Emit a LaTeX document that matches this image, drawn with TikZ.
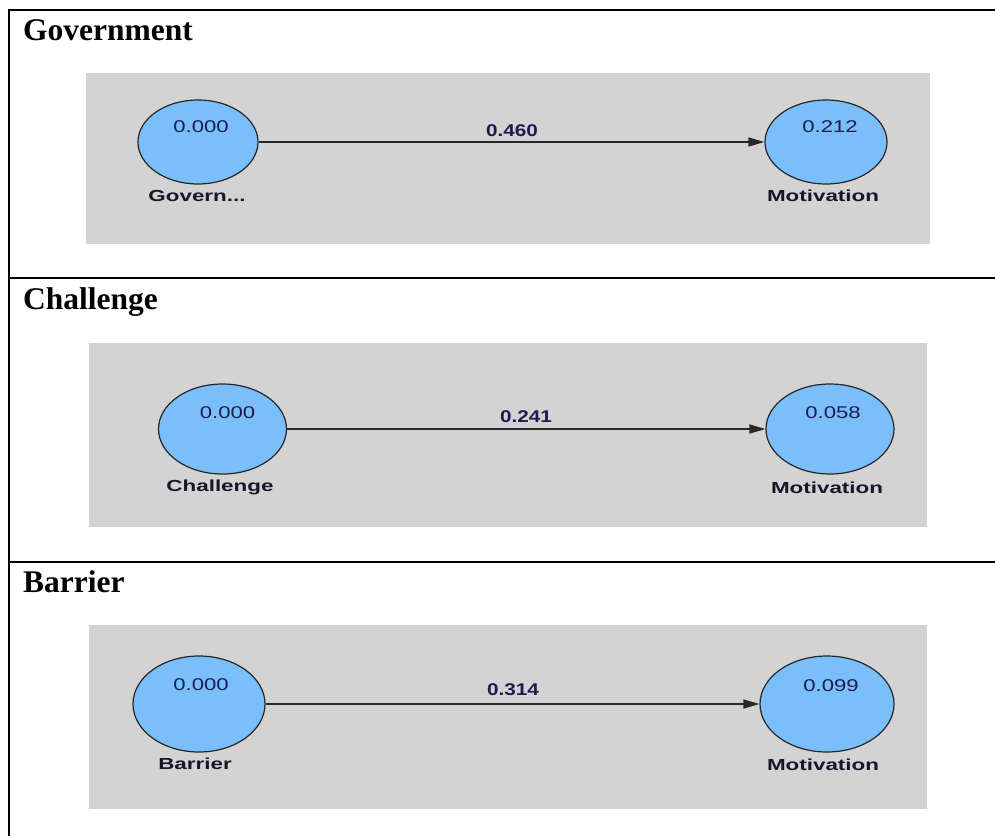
\documentclass[tikz,border=0pt]{standalone}
\usepackage{fontspec}
\usepackage{graphicx}
\usetikzlibrary{shapes.geometric,arrows.meta}
\newfontfamily\sansfam{Liberation Sans}
\newfontfamily\seriffam{Liberation Serif}
\definecolor{panelgray}{RGB}{211,211,211}
\definecolor{nodeblue}{RGB}{122,191,252}
\definecolor{valtext}{RGB}{28,28,80}
\definecolor{labtext}{RGB}{22,22,40}
\definecolor{linegray}{RGB}{40,40,40}
\tikzset{
  panel/.style={fill=panelgray, draw=none},
  latent/.style={ellipse, draw=black!85, line width=1.2pt, fill=nodeblue, inner sep=0pt},
  valnode/.style={inner sep=0pt, text=valtext, font=\sansfam\fontsize{17}{19}\selectfont},
  labnode/.style={inner sep=0pt, text=labtext, font=\sansfam\bfseries\fontsize{16}{18}\selectfont},
  edgelab/.style={inner sep=0pt, text=valtext, font=\sansfam\bfseries\fontsize{17}{19}\selectfont},
  titlenode/.style={inner sep=0pt, anchor=base west, font=\seriffam\bfseries\fontsize{31.5}{36}\selectfont},
  conn/.style={draw=linegray, line width=1.5pt, -{Triangle[length=16pt,width=9pt]}},
  rule/.style={line width=2pt, draw=black}
}
\begin{document}
\begin{tikzpicture}[x=1pt,y=-1pt]
\useasboundingbox (0,0) rectangle (995,836);
\fill[white] (0,0) rectangle (995,836);
% table rules
\draw[rule] (9,10) -- (995,10);
\draw[rule] (9,278) -- (995,278);
\draw[rule] (9,562) -- (995,562);
\draw[rule] (9,9) -- (9,836);
% titles
\node[titlenode] (t1) at (23,40) {Government};
\node[titlenode] (t2) at (23,309) {Challenge};
\node[titlenode] (t3) at (23,592) {Barrier};
% panels
\fill[panel] (86,73) rectangle (930,244);
\fill[panel] (89,343) rectangle (927,527);
\fill[panel] (89,625) rectangle (927,809);
% row 1
\node[latent, minimum width=120pt, minimum height=84pt] (L1) at (198,142) {};
\node[latent, minimum width=122pt, minimum height=84pt] (R1) at (826,142) {};
\node[valnode] (v1a) at (201,127) {\scalebox{1.3}[1]{0.000}};
\node[valnode] (v1b) at (830,127) {\scalebox{1.3}[1]{0.212}};
\node[labnode] (n1a) at (197,196) {\scalebox{1.4}[1]{Govern...}};
\node[labnode] (n1b) at (823,196) {\scalebox{1.4}[1]{Motivation}};
\draw[conn] (L1) -- (R1);
\node[edgelab] (e1) at (512,131) {\scalebox{1.22}[1]{0.460}};
% row 2
\node[latent, minimum width=128pt, minimum height=90pt] (L2) at (222.5,429) {};
\node[latent, minimum width=128pt, minimum height=90pt] (R2) at (830,429) {};
\node[valnode] (v2a) at (227.5,413) {\scalebox{1.3}[1]{0.000}};
\node[valnode] (v2b) at (833,413) {\scalebox{1.3}[1]{0.058}};
\node[labnode] (n2a) at (220,487) {\scalebox{1.4}[1]{Challenge}};
\node[labnode] (n2b) at (827,488) {\scalebox{1.4}[1]{Motivation}};
\draw[conn] (L2) -- (R2);
\node[edgelab] (e2) at (526,417) {\scalebox{1.22}[1]{0.241}};
% row 3
\node[latent, minimum width=132pt, minimum height=96pt] (L3) at (199,704) {};
\node[latent, minimum width=134pt, minimum height=96pt] (R3) at (827,704) {};
\node[valnode] (v3a) at (201,685) {\scalebox{1.3}[1]{0.000}};
\node[valnode] (v3b) at (831,686) {\scalebox{1.3}[1]{0.099}};
\node[labnode] (n3a) at (195,764) {\scalebox{1.4}[1]{Barrier}};
\node[labnode] (n3b) at (823,765) {\scalebox{1.4}[1]{Motivation}};
\draw[conn] (L3) -- (R3);
\node[edgelab] (e3) at (513,690) {\scalebox{1.22}[1]{0.314}};
\end{tikzpicture}
\end{document}
